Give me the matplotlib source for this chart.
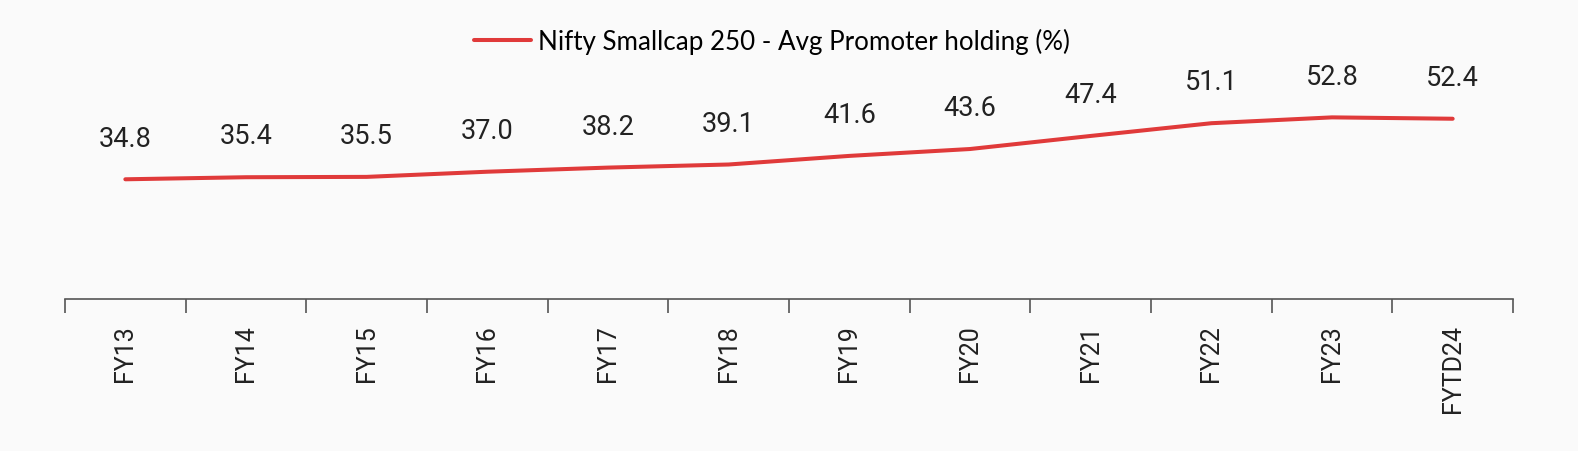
import numpy as np
import matplotlib.pyplot as plt

# Datos
years = ['FY13', 'FY14', 'FY15', 'FY16', 'FY17', 'FY18', 'FY19', 'FY20',
         'FY21', 'FY22', 'FY23', 'FYTD24']
holding = [34.8, 35.4, 35.5, 37.0, 38.2, 39.1, 41.6, 43.6, 47.4, 51.1, 52.8, 52.4]

bg = '#fafafa'
fig = plt.figure(figsize=(15.78, 4.52), dpi=100, facecolor=bg)
ax = fig.add_axes([65 / 1578, 152 / 452, 1448 / 1578, (297 - 90.6) / 452])
ax.set_facecolor(bg)

x = np.arange(len(years))
ax.plot(x, holding, color='#e03a3a', linewidth=2.9, solid_capstyle='round',
        label='Nifty Smallcap 250 - Avg Promoter holding (%)')

for xi, v in zip(x, holding):
    ax.annotate(f'{v:.1f}', (xi, v), xytext=(0, 20), textcoords='offset points',
                ha='center', va='bottom', fontsize=19.5, family='Roboto',
                color='#222222')

ax.set_xlim(-0.5, len(years) - 0.5)
ax.set_ylim(0, 60)

# Marcas entre categorías
ax.set_xticks(x)
ax.set_xticklabels(years, rotation=90, fontsize=18, family='Roboto', color='#222222')
ax.tick_params(axis='x', which='major', length=0, pad=18)
ax.set_xticks(np.arange(-0.5, len(years)), minor=True)
ax.tick_params(axis='x', which='minor', length=10, width=1.2, color='#555555')
ax.set_yticks([])

for s in ['top', 'right', 'left']:
    ax.spines[s].set_visible(False)
ax.spines['bottom'].set_color('#555555')
ax.spines['bottom'].set_linewidth(1.2)

fig.legend(loc='center', bbox_to_anchor=(772 / 1578, 1 - 42 / 452), frameon=False,
           prop={'family': 'Lato', 'size': 18.7}, handlelength=2.2, handletextpad=0.25)

fig.savefig('out.png', dpi=100, facecolor=bg)
